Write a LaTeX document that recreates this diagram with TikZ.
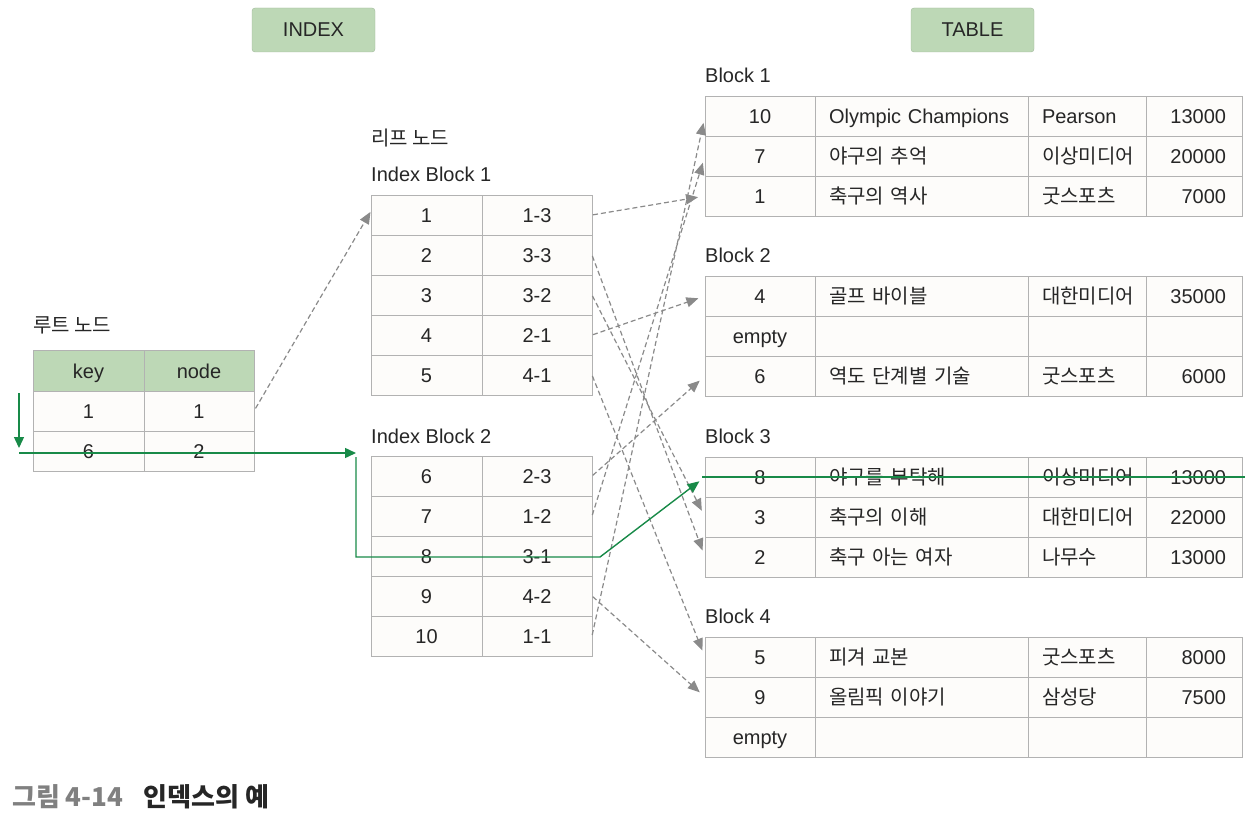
\documentclass[tikz,border=0pt]{standalone}
\usepackage{fontspec}
\setmainfont{Liberation Sans}
\newfontfamily\kr{Noto Sans CJK KR}
\usetikzlibrary{positioning, arrows.meta}

\definecolor{hdrgreen}{RGB}{189,216,182}
\definecolor{pathgreen}{RGB}{24,138,72}
\definecolor{gridgray}{RGB}{178,178,178}
\definecolor{arrgray}{RGB}{138,138,138}
\definecolor{cellbg}{RGB}{253,252,250}
\definecolor{capgray}{RGB}{128,128,128}

\tikzstyle{cell} = [draw=gridgray, line width=0.8pt, fill=cellbg, minimum height=40pt, inner sep=0pt, outer sep=0pt, text height=17pt, text depth=2pt, anchor=north west]
\tikzstyle{numcell} = [cell, minimum width=110pt]
\tikzstyle{titlecell} = [cell, text width=185pt, inner xsep=14pt, align=left]
\tikzstyle{pubcell} = [cell, text width=90pt, inner xsep=14pt, align=left]
\tikzstyle{pricecell} = [cell, text width=64pt, inner xsep=16pt, align=right]
\tikzstyle{idxcell} = [cell, minimum width=111pt]
\tikzstyle{label} = [anchor=west, inner sep=0pt]
\tikzstyle{tag} = [fill=hdrgreen, draw=hdrgreen!85!black, rounded corners=3pt, minimum width=123pt, minimum height=44pt, inner sep=0pt]
\tikzstyle{ptr} = [draw=arrgray, line width=1.2pt, dash pattern=on 5pt off 3pt, -{Triangle[length=12pt,width=10pt]}, arrgray]
\tikzstyle{walk} = [draw=pathgreen, line width=1.4pt]
\tikzstyle{every node}=[font=\fontsize{20}{24}\selectfont, text=black!85]

\begin{document}
\begin{tikzpicture}[x=1pt, y=-1pt]
\useasboundingbox (0,0) rectangle (1252,816);

% headings
\node[tag] (indextag) at (313.5,30) {INDEX};
\node[tag] (tabletag) at (972.5,30) {TABLE};

% root node
\node[label] (rootlbl) at (33,325) {\kr 루트 노드};
\node[idxcell, fill=hdrgreen, minimum height=41pt] (root-k) at (33,350) {key};
\node[idxcell, fill=hdrgreen, minimum height=41pt, minimum width=110pt] (root-v) at (root-k.north east) {node};
\foreach [count=\r] \k/\v in {1/1, 6/2}{
  \node[idxcell] (root\r-k) at ({33},{351+40*\r}) {\k};
  \node[idxcell, minimum width=110pt] (root\r-v) at (root\r-k.north east) {\v};
}

% leaf nodes
\node[label] (leaflbl) at (371,138) {\kr 리프 노드};
\node[label] (ib1lbl) at (371,174) {Index Block 1};
\foreach [count=\r] \k/\v in {1/1-3, 2/3-3, 3/3-2, 4/2-1, 5/4-1}{
  \node[idxcell] (ix\k-k) at ({371},{155+40*\r}) {\k};
  \node[idxcell, minimum width=110pt] (ix\k-v) at (ix\k-k.north east) {\v};
}
\node[label] (ib2lbl) at (371,436) {Index Block 2};
\foreach [count=\r] \k/\v in {6/2-3, 7/1-2, 8/3-1, 9/4-2, 10/1-1}{
  \node[idxcell] (ix\k-k) at ({371},{416+40*\r}) {\k};
  \node[idxcell, minimum width=110pt] (ix\k-v) at (ix\k-k.north east) {\v};
}

% table blocks
\node[label] (blk1) at (705,75) {Block 1};
\foreach [count=\r] \ka/\kb/\kc/\kd in {10/Olympic Champions/Pearson/13000, 7/{\kr 야구의 추억}/{\kr 이상미디어}/20000, 1/{\kr 축구의 역사}/{\kr 굿스포츠}/7000}{
  \node[numcell] (b1-\r-1) at ({705},{56+40*\r}) {\ka};
  \node[titlecell] (b1-\r-2) at (b1-\r-1.north east) {\kb};
  \node[pubcell] (b1-\r-3) at (b1-\r-2.north east) {\kc};
  \node[pricecell] (b1-\r-4) at (b1-\r-3.north east) {\kd};
}
\node[label] (blk2) at (705,255) {Block 2};
\foreach [count=\r] \ka/\kb/\kc/\kd in {4/{\kr 골프 바이블}/{\kr 대한미디어}/35000, empty/{}/{}/{}, 6/{\kr 역도 단계별 기술}/{\kr 굿스포츠}/6000}{
  \node[numcell] (b2-\r-1) at ({705},{236+40*\r}) {\ka};
  \node[titlecell] (b2-\r-2) at (b2-\r-1.north east) {\kb};
  \node[pubcell] (b2-\r-3) at (b2-\r-2.north east) {\kc};
  \node[pricecell] (b2-\r-4) at (b2-\r-3.north east) {\kd};
}
\node[label] (blk3) at (705,436) {Block 3};
\foreach [count=\r] \ka/\kb/\kc/\kd in {8/{\kr 야구를 부탁해}/{\kr 이상미디어}/13000, 3/{\kr 축구의 이해}/{\kr 대한미디어}/22000, 2/{\kr 축구 아는 여자}/{\kr 나무수}/13000}{
  \node[numcell] (b3-\r-1) at ({705},{417+40*\r}) {\ka};
  \node[titlecell] (b3-\r-2) at (b3-\r-1.north east) {\kb};
  \node[pubcell] (b3-\r-3) at (b3-\r-2.north east) {\kc};
  \node[pricecell] (b3-\r-4) at (b3-\r-3.north east) {\kd};
}
\node[label] (blk4) at (705,616) {Block 4};
\foreach [count=\r] \ka/\kb/\kc/\kd in {5/{\kr 피겨 교본}/{\kr 굿스포츠}/8000, 9/{\kr 올림픽 이야기}/{\kr 삼성당}/7500, empty/{}/{}/{}}{
  \node[numcell] (b4-\r-1) at ({705},{597+40*\r}) {\ka};
  \node[titlecell] (b4-\r-2) at (b4-\r-1.north east) {\kb};
  \node[pubcell] (b4-\r-3) at (b4-\r-2.north east) {\kc};
  \node[pricecell] (b4-\r-4) at (b4-\r-3.north east) {\kd};
}

% pointers
\draw[ptr, shorten <=3pt, shorten >=1pt] (root1-v.east) -- ([yshift=4pt]ix1-k.west);
\foreach \k/\b/\r in {1/1/3, 2/3/3, 3/3/2, 4/2/1, 5/4/1, 6/2/3, 7/1/2, 9/4/2, 10/1/1}
  \draw[ptr, shorten <=1pt, shorten >=7pt] (ix\k-v.east) -- (b\b-\r-1.west);

% search path for key 8
\coordinate (w0) at (19,393);
\coordinate (w1) at (19,453);
\coordinate (w2) at (356,453);
\coordinate (w3) at (356,457);
\coordinate (w4) at (356,557);
\coordinate (w5) at (600,557);
\coordinate (w6) at (1245,477);
\draw[walk, -{Triangle[length=11pt,width=10pt]}] (w0) -- ([yshift=5pt]w1);
\draw[walk, -{Triangle[length=11pt,width=10pt]}] (w1) -- (w2);
\draw[walk, -{Triangle[length=12pt,width=10pt]}, shorten >=7pt] (w3) -- (w4) -- (w5) -- (b3-1-1.west);
\draw[walk] ([xshift=-3pt]b3-1-1.west) -- (w6);

% caption
\node[label, font=\kr\fontsize{26}{30}\selectfont\bfseries] (caption) at (12,797) {\textcolor{capgray}{그림 4-14}\hspace{20pt}인덱스의 예};
\end{tikzpicture}
\end{document}
